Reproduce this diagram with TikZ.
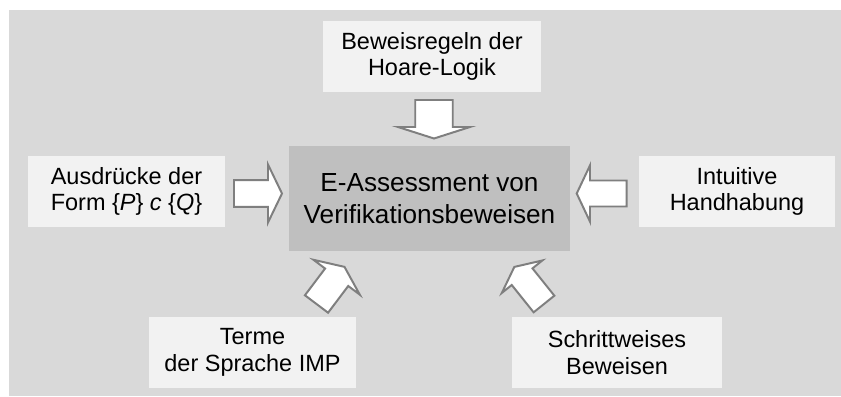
\documentclass[tikz,border=0pt]{standalone}
\usepackage{fontspec}
\setmainfont{Liberation Sans}

\definecolor{hintergrund}{HTML}{D9D9D9}
\definecolor{kastengrau}{HTML}{F2F2F2}
\definecolor{kerngrau}{HTML}{BFBFBF}
\definecolor{randgrau}{HTML}{7F7F7F}

\tikzset{
  kasten/.style = {fill = kastengrau, align = center, inner sep = 0pt,
    minimum height = 1.775cm, font = \fontsize{16.7}{19}\selectfont},
  kern/.style = {fill = kerngrau, align = center, inner sep = 0pt,
    minimum width = 7.025cm, minimum height = 2.625cm,
    font = \fontsize{18.6}{22.8}\selectfont},
  pfeil/.style = {draw = randgrau, fill = white, line width = 1.4pt}
}

% #1 Mitte des Schaftendes, #2 Richtung, #3 Schaftlaenge,
% #4 Schaftbreite, #5 Kopfbreite, #6 Kopflaenge
\newcommand{\blockpfeil}[6]{%
  \draw[pfeil, shift = {#1}, rotate = #2]
    (0, -#4/2) -- (#3, -#4/2) -- (#3, -#5/2) -- (#3 + #6, 0)
    -- (#3, #5/2) -- (#3, #4/2) -- (0, #4/2) -- cycle;
}

\begin{document}
\begin{tikzpicture}[x = 0.025cm, y = -0.025cm]
  \useasboundingbox (0, 0) rectangle (841, 396);
  \fill[hintergrund] (9, 10) rectangle (841, 396);

  \node[kern] (kern) at (429.5, 198.5)
    {E-Assessment von\\Verifikationsbeweisen};

  \node[kasten, minimum width = 5.45cm] (regeln) at (432, 56.5)
    {Beweisregeln der\\Hoare-Logik};
  \node[kasten, minimum width = 4.925cm] (ausdruecke) at (126.5, 191.5)
    {Ausdrücke der\\Form \{\textit{P}\} \textit{c} \{\textit{Q}\}};
  \node[kasten, minimum width = 4.9cm] (handhabung) at (737, 191.5)
    {Intuitive\\Handhabung};
  \node[kasten, minimum width = 5.175cm] (terme) at (252.5, 352.5)
    {Terme\\der Sprache IMP};
  \node[kasten, minimum width = 5.25cm] (schritte) at (617, 352.5)
    {Schrittweises\\Beweisen};

  \blockpfeil{(434, 100)}{-90}{27}{37.5}{72}{11.5}
  \blockpfeil{(234, 193.5)}{0}{34}{26.7}{58}{14}
  \blockpfeil{(626.7, 193.5)}{180}{36.7}{26}{56.3}{13.3}
  \blockpfeil{(316.5, 304)}{53}{33.5}{29}{58}{13}
  \blockpfeil{(544, 304)}{128.7}{35}{26.6}{52}{12.5}
\end{tikzpicture}
\end{document}
